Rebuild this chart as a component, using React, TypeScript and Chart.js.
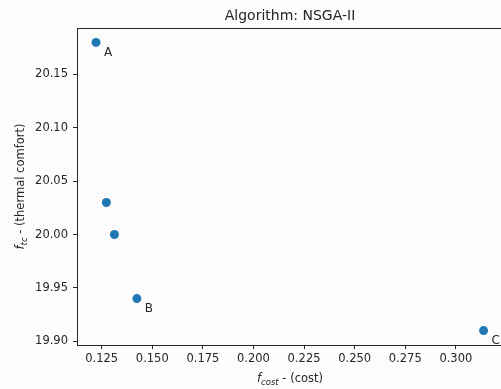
import React, { useEffect, useRef } from "react";
import { Chart, registerables } from "chart.js";

Chart.register(...registerables);

const costValues = [0.1222, 0.1273, 0.1313, 0.1424, 0.3137];
const comfortValues = [20.18, 20.03, 20.0, 19.94, 19.91];
const pointLabels = ["A", "", "", "B", "C"];
const xTicks = [0.125, 0.15, 0.175, 0.2, 0.225, 0.25, 0.275, 0.3];
const yTicks = [19.9, 19.95, 20.0, 20.05, 20.1, 20.15];
const titleText = "Algorithm: NSGA-II";

const FONT = "'DejaVu Sans', sans-serif";
const INK = "#262626";
const BG = "#fcfcfd";

const CANVAS_W = 520;
const CANVAS_H = 389;
const PLOT_RIGHT = 503;

const decorPlugin = {
  id: "decor",
  afterDraw(chart: any) {
    const ctx = chart.ctx;
    const a = chart.chartArea;
    ctx.save();
    // top spine
    ctx.strokeStyle = INK;
    ctx.lineWidth = 1;
    ctx.beginPath();
    ctx.moveTo(a.left, a.top + 0.5);
    ctx.lineTo(a.right, a.top + 0.5);
    ctx.stroke();

    // title
    ctx.fillStyle = INK;
    ctx.font = `14px ${FONT}`;
    ctx.textAlign = "center";
    ctx.textBaseline = "alphabetic";
    const cx = (a.left + a.right) / 2;
    ctx.fillText(titleText, cx, 20);

    // point labels
    const meta = chart.getDatasetMeta(0);
    ctx.font = `12px ${FONT}`;
    ctx.textAlign = "center";
    ctx.textBaseline = "middle";
    meta.data.forEach((el: any, i: number) => {
      const t = pointLabels[i];
      if (!t) return;
      ctx.fillText(t, el.x + 12, el.y + 10);
    });

    // math-style axis titles
    const drawMath = (sub: string, rest: string) => {
      const parts: { text: string; font: string; dy: number }[] = [
        { text: "f", font: `italic 11.5px ${FONT}`, dy: 0 },
        { text: sub, font: `italic 8.5px ${FONT}`, dy: 2.5 },
        { text: rest, font: `11.5px ${FONT}`, dy: 0 },
      ];
      let total = 0;
      parts.forEach((p) => {
        ctx.font = p.font;
        total += ctx.measureText(p.text).width;
      });
      let x = -total / 2;
      ctx.textAlign = "left";
      ctx.textBaseline = "alphabetic";
      parts.forEach((p) => {
        ctx.font = p.font;
        ctx.fillText(p.text, x, p.dy);
        x += ctx.measureText(p.text).width;
      });
    };

    ctx.save();
    ctx.translate(cx, 382);
    drawMath("cost", " - (cost)");
    ctx.restore();

    ctx.save();
    ctx.translate(24, (a.top + a.bottom) / 2);
    ctx.rotate(-Math.PI / 2);
    drawMath("tc", " - (thermal comfort)");
    ctx.restore();

    ctx.restore();
  },
};

export default function App() {
  const ref = useRef<HTMLCanvasElement>(null);

  useEffect(() => {
    if (!ref.current) return;
    const chart = new Chart(ref.current, {
      type: "scatter",
      data: {
        datasets: [
          {
            data: costValues.map((x, i) => ({ x, y: comfortValues[i] })),
            backgroundColor: "#1f77b4",
            borderWidth: 0,
            pointRadius: 4.5,
          },
        ],
      },
      options: {
        responsive: false,
        animation: false,
        events: [],
        layout: { padding: { top: 28, right: CANVAS_W - PLOT_RIGHT, left: 0, bottom: 0 } },
        plugins: {
          legend: { display: false },
          tooltip: { enabled: false },
          title: { display: false },
        },
        scales: {
          x: {
            type: "linear",
            min: 0.1128,
            max: 0.3233,
            afterFit: (s: any) => {
              s.height = 44;
            },
            afterBuildTicks: (s: any) => {
              s.ticks = xTicks.map((v) => ({ value: v }));
            },
            grid: {
              display: true,
              drawOnChartArea: false,
              drawTicks: true,
              tickLength: 4,
              tickColor: INK,
              tickWidth: 1,
            },
            border: { display: true, color: INK, width: 1 },
            ticks: {
              color: INK,
              font: { family: FONT, size: 11.5 },
              padding: 3,
              maxRotation: 0,
              autoSkip: false,
              callback: (v: any) => Number(v).toFixed(3),
            },
          },
          y: {
            type: "linear",
            min: 19.8965,
            max: 20.1935,
            afterFit: (s: any) => {
              s.width = 77;
            },
            afterBuildTicks: (s: any) => {
              s.ticks = yTicks.map((v) => ({ value: v }));
            },
            grid: {
              display: true,
              drawOnChartArea: false,
              drawTicks: true,
              tickLength: 4,
              tickColor: INK,
              tickWidth: 1,
            },
            border: { display: true, color: INK, width: 1 },
            ticks: {
              color: INK,
              font: { family: FONT, size: 11.5 },
              padding: 5,
              autoSkip: false,
              callback: (v: any) => Number(v).toFixed(2),
            },
          },
        },
      },
      plugins: [decorPlugin],
    });
    return () => chart.destroy();
  }, []);

  return (
    <div
      style={{
        position: "fixed",
        left: 0,
        top: 0,
        width: 501,
        height: 389,
        overflow: "hidden",
        background: BG,
      }}
    >
      <canvas
        ref={ref}
        width={CANVAS_W}
        height={CANVAS_H}
        style={{ display: "block", width: CANVAS_W, height: CANVAS_H, background: BG }}
      />
    </div>
  );
}
